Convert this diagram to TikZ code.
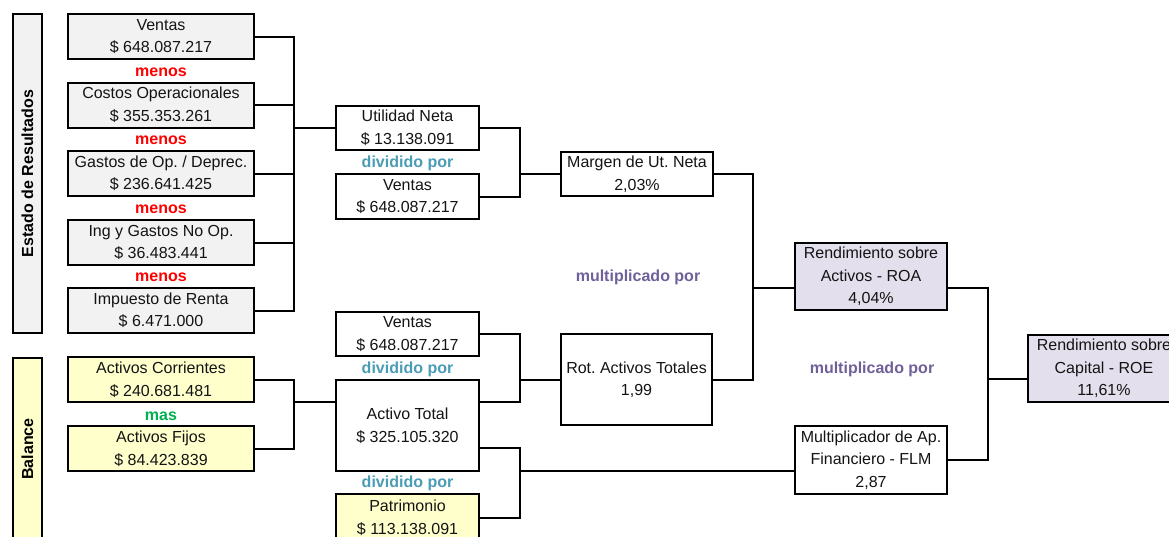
\documentclass[tikz,border=0pt]{standalone}
\usepackage{fontspec}
\setmainfont{Liberation Sans}
\frenchspacing
\definecolor{grayfill}{HTML}{F2F2F2}
\definecolor{yelfill}{HTML}{FFFFCC}
\definecolor{lavfill}{HTML}{E4DFEC}
\definecolor{menosred}{HTML}{FF0000}
\definecolor{divteal}{HTML}{4A9DB5}
\definecolor{mulpurp}{HTML}{70609A}
\definecolor{masgreen}{HTML}{00B050}
\begin{document}
\begin{tikzpicture}[x=1pt,y=-1pt,
  every node/.style={font=\fontsize{16}{22.5}\selectfont\frenchspacing},
  box/.style={draw=black,line width=2pt,inner sep=0pt,align=center,text=black!92},
  gbox/.style={box,fill=grayfill,minimum width=186pt,minimum height=45pt},
  ybox/.style={box,fill=yelfill,minimum width=186pt,minimum height=45pt},
  wbox/.style={box,fill=white,minimum width=143pt},
  rbox/.style={box,fill=white,minimum width=152pt},
  side/.style={box,minimum width=29pt,font=\fontsize{16}{18}\selectfont\bfseries},
  op/.style={font=\fontsize{16}{18}\selectfont\bfseries,inner sep=0pt},
  conn/.style={draw=black,line width=2pt}]
\useasboundingbox (0,0) rectangle (1169,536);
\clip (0,0) rectangle (1169,536);
\fill[white] (0,0) rectangle (1169,536);

% side labels
\node[side,fill=grayfill,minimum height=319pt] (s1) at (27.5,173.5) {};
\node[op,rotate=90] (s1t) at (s1.center) {Estado de Resultados};
\node[side,fill=yelfill,minimum height=182pt] (s2) at (27.5,449) {};
\node[op,rotate=90] (s2t) at (s2.center) {Balance};

% income statement
\node[gbox] (V1) at (161,36.5) {Ventas\\\$ 648.087.217};
\node[gbox] (CO) at (161,105) {Costos Operacionales\\\$ 355.353.261};
\node[gbox] (GO) at (161,173.5) {Gastos de Op. / Deprec.\\\$ 236.641.425};
\node[gbox] (IG) at (161,242.5) {Ing y Gastos No Op.\\\$ 36.483.441};
\node[gbox] (IR) at (161,310.5) {Impuesto de Renta\\\$ 6.471.000};
\node[op,text=menosred] (m1) at (161,72) {menos};
\node[op,text=menosred] (m2) at (161,140) {menos};
\node[op,text=menosred] (m3) at (161,209) {menos};
\node[op,text=menosred] (m4) at (161,277) {menos};

% balance
\node[ybox] (AC) at (161,379.5) {Activos Corrientes\\\$ 240.681.481};
\node[ybox] (AF) at (161,448.5) {Activos Fijos\\\$ 84.423.839};
\node[op,text=masgreen] (mas) at (161,416) {mas};

% second column
\node[wbox,minimum height=44pt] (UN) at (407.5,128) {Utilidad Neta\\\$ 13.138.091};
\node[wbox,minimum height=45pt] (V2) at (407.5,196.5) {Ventas\\\$ 648.087.217};
\node[wbox,minimum height=44pt] (V3) at (407.5,334) {Ventas\\\$ 648.087.217};
\node[wbox,minimum height=91pt] (AT) at (407.5,425.5) {Activo Total\\\$ 325.105.320};
\node[wbox,fill=yelfill,minimum height=47pt] (PAT) at (407.5,517.5) {Patrimonio\\\$ 113.138.091};
\node[op,text=divteal] (d1) at (407.5,163) {dividido por};
\node[op,text=divteal] (d2) at (407.5,369) {dividido por};
\node[op,text=divteal] (d3) at (407.5,483) {dividido por};

% third column
\node[rbox,minimum width=152pt,minimum height=44pt] (MUN) at (637,174) {Margen de Ut. Neta\\2,03\%};
\node[rbox,minimum width=151pt,minimum height=91pt] (ROT) at (636.5,379.5) {Rot. Activos Totales\\1,99};
\node[op,text=mulpurp] (mp1) at (638,277) {multiplicado por};

% fourth column
\node[rbox,fill=lavfill,minimum height=67pt] (ROA) at (871,276.5) {Rendimiento sobre\\Activos - ROA\\4,04\%};
\node[rbox,minimum height=68pt] (FLM) at (871,460) {Multiplicador de Ap.\\Financiero - FLM\\2,87};
\node[op,text=mulpurp] (mp2) at (872,369) {multiplicado por};

% fifth
\node[box,fill=lavfill,minimum width=152pt,minimum height=67pt] (ROE) at (1104,368.5) {Rendimiento sobre\\Capital - ROE\\11,61\%};

% connectors
\coordinate (b1) at (294,128);
\draw[conn] (V1.east) -| (b1) |- (IR.east);
\draw[conn] (CO.east) -- (CO.east -| b1);
\draw[conn] (GO.east) -- (GO.east -| b1);
\draw[conn] (IG.east) -- (IG.east -| b1);
\draw[conn] (b1) -- (UN.west);

\coordinate (b2) at (520,174);
\draw[conn] (UN.east) -| (b2) |- (V2.east);
\draw[conn] (b2) -- (MUN.west);

\coordinate (b3) at (520,379.5);
\draw[conn] (V3.east) -| (b3) |- ([yshift=23.5pt]AT.east);
\draw[conn] (b3) -- (ROT.west);

\coordinate (b4) at (520,471);
\draw[conn] ([yshift=-22.5pt]AT.east) -| (b4) |- (PAT.east);
\draw[conn] (b4) -- (b4 -| FLM.west);

\coordinate (b5) at (294,402);
\draw[conn] (AC.east) -| (b5) |- (AF.east);
\draw[conn] (b5) -- ([yshift=23.5pt]AT.west);

\coordinate (b6) at (753,288);
\draw[conn] (MUN.east) -| (b6) |- (ROT.east);
\draw[conn] (b6) -- (b6 -| ROA.west);

\coordinate (b7) at (988,379);
\draw[conn] (b6 -| ROA.east) -| (b7) |- (FLM.east);
\draw[conn] (b7) -- (b7 -| ROE.west);
\end{tikzpicture}
\end{document}
